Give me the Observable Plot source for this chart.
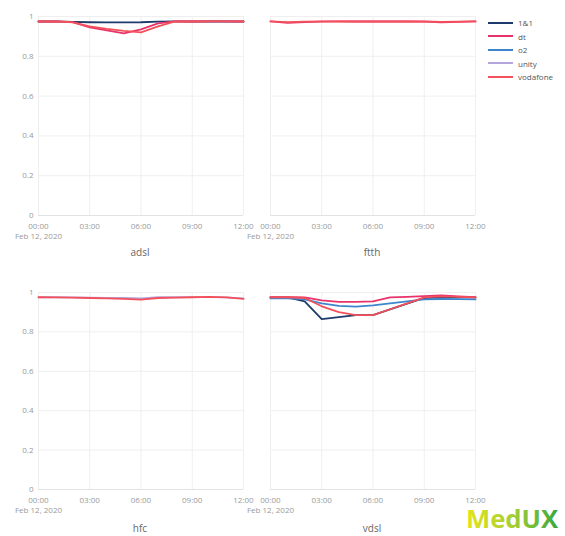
<!DOCTYPE html>
<html>
<head>
<meta charset="utf-8">
<script src="https://cdn.jsdelivr.net/npm/d3@7"></script>
<script src="https://cdn.jsdelivr.net/npm/@observablehq/plot@0.6"></script>
<style>
  html, body { margin: 0; padding: 0; background: #fff; }
  #root { position: relative; width: 565px; height: 536px; overflow: hidden; font-family: "Open Sans", sans-serif; }
  .panel { position: absolute; }
  .panel svg { overflow: visible; }
  .flabel { position: absolute; font-size: 10px; color: #666; transform: translate(-50%, -50%); white-space: nowrap; }
  #legend { position: absolute; left: 488px; top: 16px; font-size: 8px; color: #555; }
  .li { display: flex; align-items: center; height: 13.5px; }
  .li span.sw { display: inline-block; width: 25px; height: 2px; margin-right: 5px; }
  #logo { position: absolute; left: 464px; top: 505px; }
  #logo svg { overflow: visible; }
</style>
</head>
<body>
<div id="root"></div>
<script>
// ---- data ----
const hours = [0, 1, 2, 3, 4, 5, 6, 7, 8, 9, 10, 11, 12];
const carriers = ["1&1", "dt", "o2", "unity", "vodafone"];
const carrierColors = ["#1f3a6c", "#e8346a", "#3d86cc", "#b4a6dc", "#f4505c"];
const xTickHours = [0, 3, 6, 9, 12];
const dateLabel = "Feb 12, 2020";
const yTicks = [0, 0.2, 0.4, 0.6, 0.8, 1];
const facets = ["adsl", "ftth", "hfc", "vdsl"];

// adsl
const adsl_1und1    = [0.975, 0.975, 0.973, 0.971, 0.970, 0.970, 0.971, 0.974, 0.975, 0.975, 0.975, 0.975, 0.975];
const adsl_dt       = [0.975, 0.975, 0.972, 0.945, 0.930, 0.915, 0.935, 0.965, 0.975, 0.975, 0.976, 0.975, 0.975];
const adsl_vodafone = [0.975, 0.975, 0.970, 0.950, 0.938, 0.928, 0.920, 0.950, 0.975, 0.975, 0.976, 0.975, 0.975];
// ftth
const ftth_dt       = [0.975, 0.968, 0.972, 0.974, 0.975, 0.975, 0.975, 0.975, 0.975, 0.974, 0.970, 0.973, 0.975];
const ftth_vodafone = [0.975, 0.972, 0.974, 0.975, 0.975, 0.975, 0.975, 0.975, 0.975, 0.975, 0.973, 0.974, 0.975];
// hfc
const hfc_unity     = [0.976, 0.976, 0.975, 0.974, 0.973, 0.972, 0.970, 0.976, 0.976, 0.977, 0.977, 0.975, 0.970];
const hfc_vodafone  = [0.976, 0.975, 0.974, 0.972, 0.970, 0.968, 0.964, 0.972, 0.974, 0.976, 0.978, 0.975, 0.968];
// vdsl
const vdsl_1und1    = [0.975, 0.975, 0.955, 0.865, 0.875, 0.885, 0.885, 0.914, 0.944, 0.972, 0.975, 0.975, 0.975];
const vdsl_dt       = [0.976, 0.976, 0.975, 0.960, 0.952, 0.952, 0.955, 0.975, 0.978, 0.982, 0.985, 0.980, 0.976];
const vdsl_o2       = [0.970, 0.970, 0.965, 0.945, 0.932, 0.928, 0.935, 0.945, 0.955, 0.965, 0.967, 0.966, 0.965];
const vdsl_vodafone = [0.976, 0.976, 0.972, 0.930, 0.900, 0.885, 0.885, 0.915, 0.945, 0.975, 0.980, 0.978, 0.975];

const seriesByFacet = {
  adsl: {"1&1": adsl_1und1, "dt": adsl_dt, "vodafone": adsl_vodafone},
  ftth: {"dt": ftth_dt, "vodafone": ftth_vodafone},
  hfc:  {"unity": hfc_unity, "vodafone": hfc_vodafone},
  vdsl: {"1&1": vdsl_1und1, "dt": vdsl_dt, "o2": vdsl_o2, "vodafone": vdsl_vodafone}
};

// ---- build ----
const T = h => new Date(Date.UTC(2020, 1, 12, h));
const xTicks = xTickHours.map(T);
const fmtX = d => String(d.getUTCHours()).padStart(2, "0") + ":00";
const fmtY = d => d === 0 ? "0" : d === 1 ? "1" : d.toFixed(1);

function rowsFor(facet) {
  const rows = [];
  for (const c of carriers) {
    const vals = seriesByFacet[facet][c];
    if (!vals) continue;
    vals.forEach((v, i) => rows.push({carrier: c, t: T(hours[i]), v}));
  }
  return rows;
}

const layout = {
  adsl: {left: 0,   top: 0,   width: 250, height: 245, ml: 38, mr: 7,  mt: 16, mb: 30, yaxis: true,  lx: 140, ly: 252},
  ftth: {left: 250, top: 0,   width: 230, height: 245, ml: 20, mr: 5,  mt: 16, mb: 30, yaxis: false, lx: 372, ly: 252},
  hfc:  {left: 0,   top: 270, width: 250, height: 249, ml: 38, mr: 7,  mt: 22, mb: 30, yaxis: true,  lx: 140, ly: 528},
  vdsl: {left: 250, top: 270, width: 230, height: 249, ml: 20, mr: 5,  mt: 22, mb: 30, yaxis: false, lx: 372, ly: 528}
};

const root = document.getElementById("root");

for (const f of facets) {
  const L = layout[f];
  const marks = [
    Plot.ruleX(xTicks, {stroke: "#efefef", strokeWidth: 1}),
    Plot.ruleY(yTicks.filter(d => d > 0), {stroke: "#efefef", strokeWidth: 1}),
    Plot.ruleY([0], {stroke: "#e2e2e2", strokeWidth: 1}),
    Plot.axisX(xTicks, {tickFormat: fmtX, tickSize: 0, tickPadding: 8, fill: "#9a9a9a", fontSize: 8, label: null}),
    Plot.axisX([T(0)], {tickFormat: () => dateLabel, tickSize: 0, tickPadding: 18, fill: "#9a9a9a", fontSize: 8, label: null}),
    Plot.lineY(rowsFor(f), {x: "t", y: "v", stroke: "carrier", strokeWidth: 1.8, curve: "linear"})
  ];
  if (L.yaxis) marks.push(Plot.axisY(yTicks, {tickFormat: fmtY, tickSize: 0, tickPadding: 5, fill: "#9a9a9a", fontSize: 8, label: null}));
  const chart = Plot.plot({
    width: L.width, height: L.height,
    marginLeft: L.ml, marginRight: L.mr, marginTop: L.mt, marginBottom: L.mb,
    style: {fontFamily: "Open Sans, sans-serif", fontSize: "8px", background: "transparent"},
    x: {type: "utc", domain: [T(0), T(12)], axis: null},
    y: {domain: [0, 1], axis: null},
    color: {domain: carriers, range: carrierColors},
    marks
  });
  const div = document.createElement("div");
  div.className = "panel";
  div.style.left = L.left + "px";
  div.style.top = L.top + "px";
  div.appendChild(chart);
  root.appendChild(div);

  const lab = document.createElement("div");
  lab.className = "flabel";
  lab.style.left = L.lx + "px";
  lab.style.top = L.ly + "px";
  lab.textContent = f;
  root.appendChild(lab);
}

// legend
const leg = document.createElement("div");
leg.id = "legend";
carriers.forEach((c, i) => {
  const row = document.createElement("div");
  row.className = "li";
  const sw = document.createElement("span");
  sw.className = "sw";
  sw.style.background = carrierColors[i];
  row.appendChild(sw);
  row.appendChild(document.createTextNode(c));
  leg.appendChild(row);
});
root.appendChild(leg);

// logo
const logo = document.createElement("div");
logo.id = "logo";
logo.innerHTML = `<svg width="98" height="26" viewBox="0 0 98 26">
  <defs><linearGradient id="lg" x1="0" x2="1" y1="0" y2="0">
    <stop offset="0" stop-color="#e4e31e"/><stop offset="0.5" stop-color="#a6cf34"/><stop offset="1" stop-color="#38a83e"/>
  </linearGradient></defs>
  <text x="2" y="23" textLength="92" lengthAdjust="spacingAndGlyphs" font-family="'Open Sans', sans-serif" font-weight="700" font-size="25" fill="url(#lg)">MedUX</text>
</svg>`;
root.appendChild(logo);
</script>
</body>
</html>
